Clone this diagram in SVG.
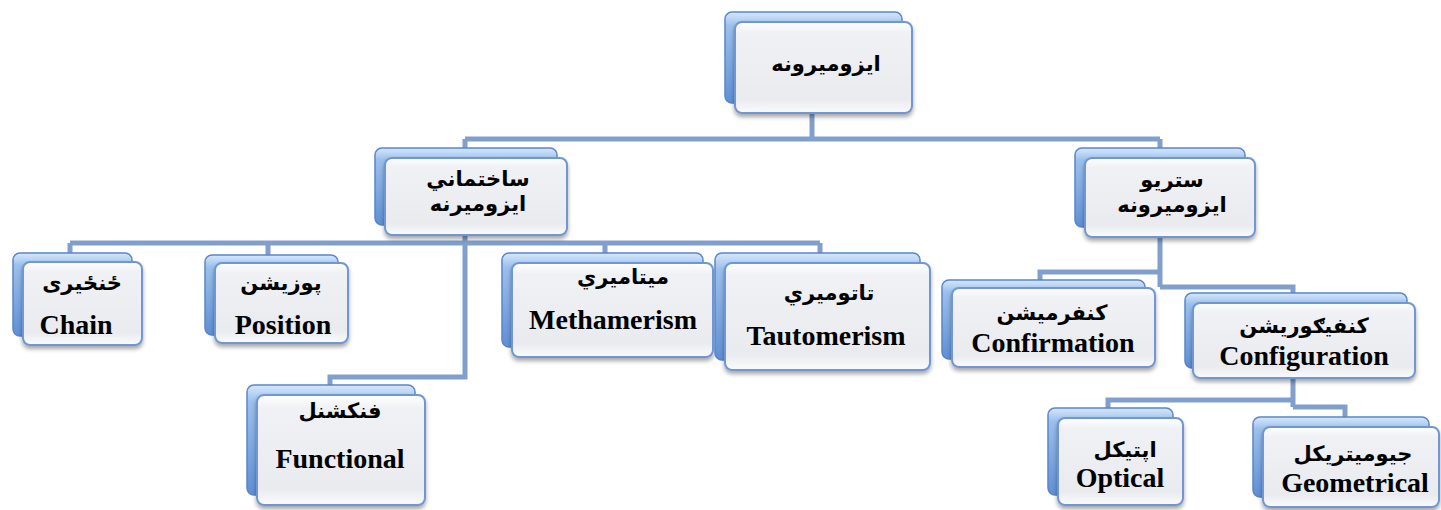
<svg xmlns="http://www.w3.org/2000/svg" width="1441" height="510" viewBox="0 0 1441 510">
<style>
.back{fill:url(#gBack);stroke:#5a86c8;stroke-width:1.5}
.front{fill:url(#gFront);stroke:#6f97d3;stroke-width:2;filter:url(#sh)}
.ar{font-family:"DejaVu Sans",sans-serif;font-weight:bold;font-size:21px;fill:#000;text-anchor:middle}
.en{font-family:"Liberation Serif","Times New Roman","DejaVu Serif",serif;font-weight:bold;font-size:28px;fill:#000;text-anchor:middle}
.con{fill:none;stroke:#819fcd;stroke-width:5;stroke-linejoin:miter}
</style>
<defs>
<linearGradient id="gBack" x1="0" y1="0" x2="0" y2="1">
<stop offset="0" stop-color="#d6e8fb"/>
<stop offset="0.15" stop-color="#9cc0ec"/>
<stop offset="1" stop-color="#5f8fd5"/>
</linearGradient>
<linearGradient id="gFront" x1="0" y1="0" x2="0" y2="1">
<stop offset="0" stop-color="#ffffff"/>
<stop offset="0.12" stop-color="#eff1f4"/>
<stop offset="0.85" stop-color="#e9ebef"/>
<stop offset="1" stop-color="#fafbfc"/>
</linearGradient>
<filter id="sh" x="-10%" y="-10%" width="120%" height="130%">
<feDropShadow dx="0" dy="3" stdDeviation="2" flood-color="#000" flood-opacity="0.35"/>
</filter>
</defs>
<g id="connectors">
<path class="con" d="M812,113 V139 M465,139 H1160 M465,139 V150 M1160,139 V150"/>
<path class="con" d="M465,235 V377 H330 V387 M70,243 H820 M70,243 V255 M268,243 V257 M605,243 V255 M820,243 V255"/>
<path class="con" d="M1160,237 V287 M1160,272 H1040 V282 M1160,287 H1293 V295"/>
<path class="con" d="M1293,378 V407 M1293,400 H1108 V410 M1293,407 H1345 V419"/>
</g>
<g id="n-top">
<rect class="back" x="725" y="12" width="177" height="91" rx="7"/>
<rect class="front" x="735" y="22" width="177" height="91" rx="7"/>
<text class="ar" x="826" y="71">ايزوميرونه</text>
</g>
<g id="n-structural">
<rect class="back" x="375" y="148" width="182" height="77" rx="7"/>
<rect class="front" x="385" y="158" width="182" height="77" rx="7"/>
<text class="ar" x="478" y="186">ساختماني</text>
<text class="ar" x="478" y="211">ايزوميرنه</text>
</g>
<g id="n-stereo">
<rect class="back" x="1075" y="148" width="170" height="79" rx="7"/>
<rect class="front" x="1085" y="158" width="170" height="79" rx="7"/>
<text class="ar" x="1172" y="187">ستريو</text>
<text class="ar" x="1172" y="212">ايزوميرونه</text>
</g>
<g id="n-chain">
<rect class="back" x="13" y="253" width="119" height="83" rx="7"/>
<rect class="front" x="23" y="262" width="119" height="83" rx="7"/>
<text class="ar" x="82" y="290">ځنځيری</text>
<text class="en" font-family="Liberation Serif, serif" x="76" y="334">Chain</text>
</g>
<g id="n-position">
<rect class="back" x="205" y="255" width="133" height="80" rx="7"/>
<rect class="front" x="215" y="263" width="133" height="80" rx="7"/>
<text class="ar" x="281" y="290">پوزيشن</text>
<text class="en" x="283" y="334">Position</text>
</g>
<g id="n-methamerism">
<rect class="back" x="502" y="253" width="201" height="94" rx="7"/>
<rect class="front" x="512" y="263" width="201" height="94" rx="7"/>
<text class="ar" x="623" y="284">ميتاميري</text>
<text class="en" x="613" y="329">Methamerism</text>
</g>
<g id="n-tautomerism">
<rect class="back" x="715" y="253" width="205" height="107" rx="7"/>
<rect class="front" x="725" y="263" width="205" height="107" rx="7"/>
<text class="ar" x="829" y="300">تاتوميري</text>
<text class="en" x="826" y="345">Tautomerism</text>
</g>
<g id="n-functional">
<rect class="back" x="247" y="385" width="168" height="110" rx="7"/>
<rect class="front" x="257" y="395" width="168" height="110" rx="7"/>
<text class="ar" x="340" y="418">فنکشنل</text>
<text class="en" x="340" y="468">Functional</text>
</g>
<g id="n-confirmation">
<rect class="back" x="942" y="280" width="203" height="79" rx="7"/>
<rect class="front" x="952" y="288" width="203" height="79" rx="7"/>
<text class="ar" x="1052" y="320">کنفرميشن</text>
<text class="en" x="1053" y="352">Confirmation</text>
</g>
<g id="n-configuration">
<rect class="back" x="1185" y="293" width="222" height="75" rx="7"/>
<rect class="front" x="1193" y="303" width="222" height="75" rx="7"/>
<text class="ar" x="1304" y="333">کنفيګوريشن</text>
<text class="en" x="1304" y="365">Configuration</text>
</g>
<g id="n-optical">
<rect class="back" x="1048" y="408" width="125" height="87" rx="7"/>
<rect class="front" x="1058" y="418" width="125" height="87" rx="7"/>
<text class="ar" x="1125" y="457">اپتيکل</text>
<text class="en" x="1120" y="487">Optical</text>
</g>
<g id="n-geometrical">
<rect class="back" x="1253" y="417" width="176" height="80" rx="7"/>
<rect class="front" x="1263" y="427" width="176" height="80" rx="7"/>
<text class="ar" x="1353" y="461">جيوميتريکل</text>
<text class="en" x="1355" y="492">Geometrical</text>
</g>
</svg>
